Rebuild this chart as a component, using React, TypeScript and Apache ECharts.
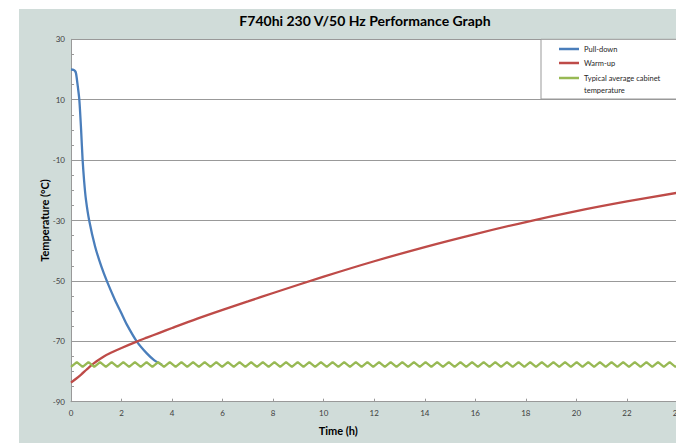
import React, { useEffect, useRef } from "react";
import * as echarts from "echarts";

const titleText = "F740hi 230 V/50 Hz Performance Graph";
const xAxisName = "Time (h)";
const yAxisName = "Temperature (°C)";
const seriesNames = ["Pull-down", "Warm-up", "Typical average cabinet temperature"];

const pullDownTime = [0, 0.1, 0.16, 0.2, 0.26, 0.33, 0.4, 0.46, 0.52, 0.59, 0.72, 0.95, 1.2, 1.44, 1.74, 2.0, 2.2, 2.6, 3.0, 3.3, 3.6];
const pullDownTemp = [20, 19.9, 19.5, 18.7, 15, 9.9, 0, -10, -17, -23, -30, -38.5, -45.2, -50.5, -56.3, -60.8, -64.3, -70.0, -74, -76.3, -77.8];

const warmUpTime = [0, 0.2, 0.4, 0.6, 0.8, 1.0, 1.3, 1.6, 2.0, 2.6, 3.0, 3.5, 4, 5, 6, 7, 8, 10, 12, 14, 16, 18, 20, 22, 24];
const warmUpTemp = [-83.7, -82.4, -81.0, -79.5, -78.0, -76.7, -75.0, -73.7, -72.2, -70.1, -68.8, -67.2, -65.6, -62.5, -59.6, -56.8, -54.0, -48.6, -43.5, -38.8, -34.5, -30.5, -26.9, -23.7, -20.8];

const cabinetTime = [
  0, 0.23, 0.46, 0.69, 0.92, 1.15, 1.38, 1.61, 1.84, 2.07, 2.3, 2.53, 2.76, 2.99, 3.22, 3.45, 3.68, 3.91,
  4.14, 4.37, 4.6, 4.83, 5.06, 5.29, 5.52, 5.75, 5.98, 6.21, 6.44, 6.67, 6.9, 7.13, 7.36, 7.59, 7.82, 8.05,
  8.28, 8.51, 8.74, 8.97, 9.2, 9.43, 9.66, 9.89, 10.12, 10.35, 10.58, 10.81, 11.04, 11.27, 11.5, 11.73,
  11.96, 12.19, 12.42, 12.65, 12.88, 13.11, 13.34, 13.57, 13.8, 14.03, 14.26, 14.49, 14.72, 14.95, 15.18,
  15.41, 15.64, 15.87, 16.1, 16.33, 16.56, 16.79, 17.02, 17.25, 17.48, 17.71, 17.94, 18.17, 18.4, 18.63,
  18.86, 19.09, 19.32, 19.55, 19.78, 20.01, 20.24, 20.47, 20.7, 20.93, 21.16, 21.39, 21.62, 21.85, 22.08,
  22.31, 22.54, 22.77, 23.0, 23.23, 23.46, 23.69, 23.92, 24.15,
];
const cabinetTemp = [
  -78.5, -76.9, -78.5, -76.9, -78.5, -76.9, -78.5, -76.9, -78.5, -76.9, -78.5, -76.9, -78.5, -76.9, -78.5, -76.9, -78.5, -76.9,
  -78.5, -76.9, -78.5, -76.9, -78.5, -76.9, -78.5, -76.9, -78.5, -76.9, -78.5, -76.9, -78.5, -76.9, -78.5, -76.9, -78.5, -76.9,
  -78.5, -76.9, -78.5, -76.9, -78.5, -76.9, -78.5, -76.9, -78.5, -76.9, -78.5, -76.9, -78.5, -76.9, -78.5, -76.9,
  -78.5, -76.9, -78.5, -76.9, -78.5, -76.9, -78.5, -76.9, -78.5, -76.9, -78.5, -76.9, -78.5, -76.9, -78.5,
  -76.9, -78.5, -76.9, -78.5, -76.9, -78.5, -76.9, -78.5, -76.9, -78.5, -76.9, -78.5, -76.9, -78.5, -76.9,
  -78.5, -76.9, -78.5, -76.9, -78.5, -76.9, -78.5, -76.9, -78.5, -76.9, -78.5, -76.9, -78.5, -76.9, -78.5,
  -76.9, -78.5, -76.9, -78.5, -76.9, -78.5, -76.9, -78.5, -76.9,
];

const FONT = "Lato";
const BLUE = "#4A7EBB";
const RED = "#BE4B48";
const GREEN = "#98B954";
const GRID_GRAY = "#999999";

const zip = (xs: number[], ys: number[]) => xs.map((x, i) => [x, ys[i]]);

export default function App() {
  const ref = useRef<HTMLDivElement>(null);
  useEffect(() => {
    if (!ref.current) return;
    const chart = echarts.init(ref.current, null, { renderer: "svg" });
    const legendText = { fontFamily: FONT, fontSize: 7.5, color: "#262626" };
    const option: any = {
      animation: false,
      backgroundColor: "#d0dcd9",
      title: {
        text: titleText,
        left: 346,
        top: 4,
        padding: 0,
        textAlign: "center",
        textStyle: { fontFamily: FONT, fontSize: 14, fontWeight: "bold", color: "#000" },
      },
      grid: {
        left: 52,
        top: 30.3,
        right: 34.5,
        bottom: 41.3,
        show: true,
        backgroundColor: "#ffffff",
        borderWidth: 0,
      },
      xAxis: {
        type: "value",
        min: 0,
        max: 24,
        interval: 2,
        name: xAxisName,
        nameLocation: "middle",
        nameGap: 23,
        nameMoveOverlap: false,
        nameTextStyle: { fontFamily: FONT, fontSize: 11, fontWeight: "bold", color: "#000", padding: [0, 72, 0, 0] },
        axisLine: { show: true, onZero: false, lineStyle: { color: GRID_GRAY, width: 1 } },
        axisTick: { show: true, inside: true, length: 3, lineStyle: { color: GRID_GRAY } },
        axisLabel: { fontFamily: FONT, fontSize: 8, color: "#404040", margin: 7 },
        splitLine: { show: false },
      },
      yAxis: {
        type: "value",
        min: -90,
        max: 30,
        interval: 10,
        name: yAxisName,
        nameLocation: "middle",
        nameGap: 21,
        nameMoveOverlap: false,
        nameTextStyle: { fontFamily: FONT, fontSize: 11, fontWeight: "bold", color: "#000" },
        axisLine: { show: true, onZero: false, lineStyle: { color: GRID_GRAY, width: 1 } },
        axisTick: { show: true, inside: true, length: 3, lineStyle: { color: GRID_GRAY } },
        minorTick: { show: true, splitNumber: 2, length: 3, lineStyle: { color: GRID_GRAY } },
        axisLabel: {
          fontFamily: FONT,
          fontSize: 8,
          color: "#404040",
          margin: 6,
          formatter: (v: number) => ((v + 90) % 20 === 0 ? String(v) : ""),
        },
        splitLine: { show: true, lineStyle: { color: [GRID_GRAY, "rgba(0,0,0,0)"], width: 1.2 } },
      },
      legend: [
        {
          data: [seriesNames[0], seriesNames[1]],
          orient: "vertical",
          left: 540,
          top: 35,
          padding: 0,
          icon: "rect",
          itemWidth: 20,
          itemHeight: 2.5,
          itemGap: 4,
          textStyle: { ...legendText, lineHeight: 10 },
          selectedMode: false,
        },
        {
          data: [seriesNames[2]],
          orient: "vertical",
          left: 540,
          top: 50.25,
          padding: 0,
          icon: "rect",
          itemWidth: 20,
          itemHeight: 2.5,
          formatter: () => "\nTypical average cabinet\ntemperature",
          textStyle: { ...legendText, lineHeight: 12.5 },
          selectedMode: false,
        },
      ],
      graphic: [
        {
          type: "rect",
          z: 3,
          silent: true,
          shape: { x: 522, y: 30.3, width: 170, height: 59.7 },
          style: { fill: "#ffffff", stroke: GRID_GRAY, lineWidth: 1 },
        },
      ],
      series: [
        {
          name: seriesNames[0],
          type: "line",
          data: zip(pullDownTime, pullDownTemp),
          showSymbol: false,
          symbol: "none",
          smooth: 0.25,
          lineStyle: { color: BLUE, width: 2.3 },
          itemStyle: { color: BLUE },
        },
        {
          name: seriesNames[1],
          type: "line",
          data: zip(warmUpTime, warmUpTemp),
          showSymbol: false,
          symbol: "none",
          smooth: 0.3,
          lineStyle: { color: RED, width: 2.3 },
          itemStyle: { color: RED },
        },
        {
          name: seriesNames[2],
          type: "line",
          data: zip(cabinetTime, cabinetTemp),
          showSymbol: false,
          symbol: "none",
          smooth: false,
          clip: true,
          lineStyle: { color: GREEN, width: 2.3 },
          itemStyle: { color: GREEN },
        },
      ],
    };
    chart.setOption(option);
    return () => chart.dispose();
  }, []);

  return (
    <div style={{ position: "absolute", left: 0, top: 0, width: 676, height: 446, overflow: "hidden", background: "#fff" }}>
      <div ref={ref} style={{ position: "absolute", left: 19, top: 9, width: 693, height: 434 }} />
    </div>
  );
}
